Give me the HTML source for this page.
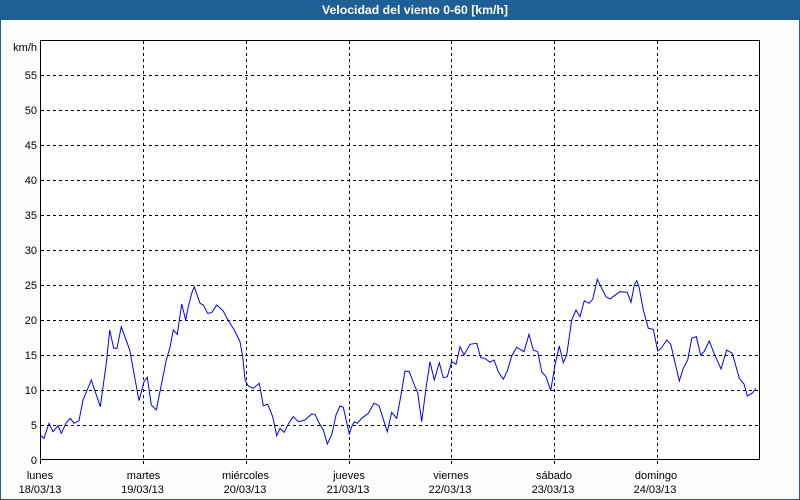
<!DOCTYPE html>
<html>
<head>
<meta charset="utf-8">
<style>
  html,body{margin:0;padding:0;background:#fcfdfc;}
  svg{display:block;}
  text{font-family:"Liberation Sans","DejaVu Sans",sans-serif;}
</style>
</head>
<body>
<svg width="800" height="500" viewBox="0 0 800 500" xmlns="http://www.w3.org/2000/svg" shape-rendering="crispEdges">
  <!-- background -->
  <rect x="0" y="0" width="800" height="500" fill="#fcfdfc"/>
  <!-- frame -->
  <rect x="0" y="0" width="800" height="20" fill="#1e6096"/>
  <rect x="0" y="0" width="1" height="500" fill="#1e6096"/>
  <rect x="799" y="0" width="1" height="500" fill="#1e6096"/>
  <rect x="0" y="499" width="800" height="1" fill="#1e6096"/>
  <text x="415" y="14" font-size="12" font-weight="bold" fill="#ffffff" text-anchor="middle" textLength="186" lengthAdjust="spacingAndGlyphs">Velocidad del viento 0-60 [km/h]</text>

  <!-- plot area -->
  <rect x="40" y="40" width="720" height="420" fill="#ffffff"/>

  <!-- horizontal grid -->
  <g stroke="#000" stroke-width="1" stroke-dasharray="3,3">
    <line x1="41" y1="425.5" x2="760" y2="425.5"/>
    <line x1="41" y1="390.5" x2="760" y2="390.5"/>
    <line x1="41" y1="355.5" x2="760" y2="355.5"/>
    <line x1="41" y1="320.5" x2="760" y2="320.5"/>
    <line x1="41" y1="285.5" x2="760" y2="285.5"/>
    <line x1="41" y1="250.5" x2="760" y2="250.5"/>
    <line x1="41" y1="215.5" x2="760" y2="215.5"/>
    <line x1="41" y1="180.5" x2="760" y2="180.5"/>
    <line x1="41" y1="145.5" x2="760" y2="145.5"/>
    <line x1="41" y1="110.5" x2="760" y2="110.5"/>
    <line x1="41" y1="75.5" x2="760" y2="75.5"/>
  </g>
  <!-- vertical grid -->
  <g stroke="#000" stroke-width="1" stroke-dasharray="3,3">
    <line x1="143.5" y1="41" x2="143.5" y2="464"/>
    <line x1="246.5" y1="41" x2="246.5" y2="464"/>
    <line x1="349.5" y1="41" x2="349.5" y2="464"/>
    <line x1="451.5" y1="41" x2="451.5" y2="464"/>
    <line x1="554.5" y1="41" x2="554.5" y2="464"/>
    <line x1="657.5" y1="41" x2="657.5" y2="464"/>
  </g>
  <!-- axis box -->
  <rect x="40.5" y="40.5" width="719" height="419" fill="none" stroke="#000" stroke-width="1"/>
  <line x1="40.5" y1="460" x2="40.5" y2="464" stroke="#000"/>

  <!-- y labels -->
  <g font-size="11" fill="#000" text-anchor="end">
    <text x="37" y="51">km/h</text>
    <text x="37" y="79">55</text>
    <text x="37" y="114">50</text>
    <text x="37" y="149">45</text>
    <text x="37" y="184">40</text>
    <text x="37" y="219">35</text>
    <text x="37" y="254">30</text>
    <text x="37" y="289">25</text>
    <text x="37" y="324">20</text>
    <text x="37" y="359">15</text>
    <text x="37" y="394">10</text>
    <text x="37" y="429">5</text>
    <text x="37" y="464">0</text>
  </g>

  <!-- x labels -->
  <g font-size="11" fill="#000" text-anchor="middle">
    <text x="40" y="479">lunes</text>
    <text x="40" y="493">18/03/13</text>
    <text x="143.5" y="479">martes</text>
    <text x="142.5" y="493">19/03/13</text>
    <text x="245.5" y="479">miércoles</text>
    <text x="245" y="493">20/03/13</text>
    <text x="349" y="479">jueves</text>
    <text x="348" y="493">21/03/13</text>
    <text x="451" y="479">viernes</text>
    <text x="450" y="493">22/03/13</text>
    <text x="554" y="479">sábado</text>
    <text x="553" y="493">23/03/13</text>
    <text x="656" y="479">domingo</text>
    <text x="655" y="493">24/03/13</text>
  </g>

  <!-- data -->
  <polyline fill="none" stroke="#0000ff" stroke-width="1" shape-rendering="auto" stroke-linejoin="miter"
    points="40.7,435.7 44,438.3 49,423.3 53,431.7 58,425.7 61.3,433.3 66.3,422.7 70.3,418.3 74,423.3 79,420.7 83,400 91.3,380 100.3,406.7 106.3,363.3 109.7,330 113.7,348.3 117,348.3 121.3,326.7 129.7,350 139,400.7 144,381.7 147.3,377.3 151.3,405 156.3,410 166.3,360 170,347.3 173.3,330 177.3,334.3 181.7,304 185.7,320 188.3,306.7 191.7,293.3 194.3,286.7 200,303.3 203.3,305 207.7,313.3 211.7,312.7 216.7,305 223.3,311 228.3,320.7 234.3,330 240,341.7 242.7,356.7 245,380 248.3,386 253.3,388.3 259.3,383.3 263.3,405.7 267.7,404.3 272.7,416.7 276.7,435.7 280,428.3 284.3,432.3 288.3,424 293.3,416.7 298.3,421.7 305,420 311.7,414 315,414.3 319.3,423.3 323.3,430 327.3,444 331.7,435 336,415 340,406 343.3,407.3 349.3,434 351.7,426.7 354.3,421.7 357.3,423.3 361.7,418.3 368.3,413.3 374,403.3 379,405.7 387.3,431.7 391.7,412.3 396.7,418.3 401,395 405,371 409.3,371.7 415,386.7 417.7,392.7 421.7,421.7 426,388.3 430,361.7 434.3,380 439.3,362.7 443.3,377.7 447.3,376.7 451.7,361.7 456,364.3 460,346.7 464,355 470,344.3 476.7,343.3 480.7,357.7 485,358.3 490,362.3 494,360 498.3,371.7 503.3,379.3 507.3,371 511.7,356 516.7,347.3 524,351.7 529,334.3 533.3,350 537.7,351.7 541.7,371.7 546,376.7 550.7,390.7 555,365 559.3,346 563.3,362.7 566.7,355 571.7,320 576,310 580,316.7 584.3,300.7 589,303.3 592.7,299.3 597.3,279.3 601.7,288.3 606,296.7 610,299 614.3,295.7 620,291.7 627.3,292.3 631,302.3 634.3,285 636.7,280.7 639,286.7 643.3,310 648.3,328.3 653.3,329.3 657.7,351 661.7,347.7 666.7,340 670.7,344.3 674,358.3 679.3,381 683.3,368.3 687.7,360 691.7,338.3 696.3,336.7 700.7,355 704,351.7 709.3,341 714,353.3 721,369 726.7,350 732.3,353.3 739.3,378.3 744,384 747.3,396 752.7,392.7 756,388.3"/>
</svg>
</body>
</html>
